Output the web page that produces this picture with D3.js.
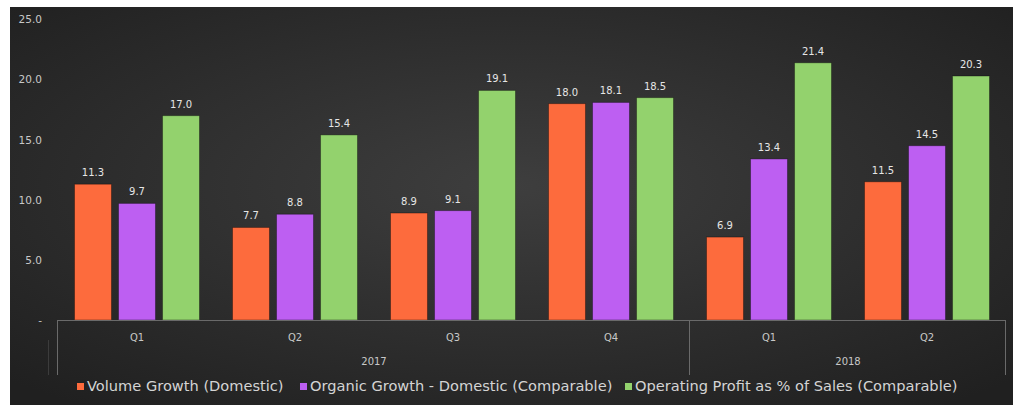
<!DOCTYPE html>
<html>
<head>
<meta charset="utf-8">
<script src="https://cdn.jsdelivr.net/npm/d3@7"></script>
<style>
  body { margin: 0; background: #fff; }
  svg { display: block; font-family: 'DejaVu Sans', 'Open Sans', sans-serif; }
</style>
</head>
<body>
<svg width="1013" height="405"></svg>
<script>
const quarters = ['Q1', 'Q2', 'Q3', 'Q4', 'Q1', 'Q2'];
const years = ['2017', '2017', '2017', '2017', '2018', '2018'];
const seriesNames = ['Volume Growth (Domestic)', 'Organic Growth - Domestic (Comparable)', 'Operating Profit as % of Sales (Comparable)'];
const volume = [11.3, 7.7, 8.9, 18.0, 6.9, 11.5];
const organic = [9.7, 8.8, 9.1, 18.1, 13.4, 14.5];
const profit = [17.0, 15.4, 19.1, 18.5, 21.4, 20.3];
const yTicks = [0, 5, 10, 15, 20, 25];

const colors = ['#fd6b3d', '#bd5ff2', '#93d26d'];
const svg = d3.select('svg');

// background
const defs = svg.append('defs');
const grad = defs.append('radialGradient')
  .attr('id', 'bg')
  .attr('cx', '50%').attr('cy', '45%').attr('r', '70%');
grad.append('stop').attr('offset', '0%').attr('stop-color', '#3e3e3e');
grad.append('stop').attr('offset', '100%').attr('stop-color', '#202020');

svg.append('rect')
  .attr('x', 10).attr('y', 7)
  .attr('width', 1003).attr('height', 398)
  .attr('fill', 'url(#bg)');

let xScale = d3.scaleBand()
  .domain(d3.range(quarters.length))
  .range([58, 1006]);

let inner = d3.scaleBand()
  .domain([0, 1, 2])
  .range([0, xScale.bandwidth()])
  .paddingInner(0.16)
  .paddingOuter(0.375);

let yScale = d3.scaleLinear()
  .domain([0, 25])
  .range([320, 19.5]);

// y axis labels
let yAxis = d3.axisLeft(yScale)
  .tickValues(yTicks)
  .tickSize(0)
  .tickPadding(0)
  .tickFormat(function(d) { return d === 0 ? '-' : d3.format('.1f')(d); });

svg.append('g')
  .attr('transform', 'translate(42,0)')
  .call(yAxis)
  .call(g => g.select('.domain').remove())
  .selectAll('text')
  .attr('fill', '#c8c8c8')
  .attr('font-family', "'DejaVu Sans', sans-serif")
  .attr('font-size', 10.5);

// bars
const data = [];
quarters.forEach(function(q, i) {
  [volume[i], organic[i], profit[i]].forEach(function(v, s) {
    data.push({ i: i, s: s, v: v });
  });
});

svg.selectAll('rect.bar')
  .data(data)
  .enter()
  .append('rect')
  .attr('class', 'bar')
  .attr('x', function(d) { return xScale(d.i) + inner(d.s); })
  .attr('y', function(d) { return yScale(d.v); })
  .attr('width', inner.bandwidth())
  .attr('height', function(d) { return yScale(0) - yScale(d.v); })
  .attr('fill', function(d) { return colors[d.s]; })
  .attr('stroke', 'rgba(0,0,0,0.35)')
  .attr('stroke-width', 1);

svg.selectAll('text.val')
  .data(data)
  .enter()
  .append('text')
  .attr('class', 'val')
  .attr('x', function(d) { return xScale(d.i) + inner(d.s) + inner.bandwidth() / 2; })
  .attr('y', function(d) { return yScale(d.v) - 8; })
  .attr('text-anchor', 'middle')
  .attr('fill', '#e6e6e6')
  .attr('font-size', 10)
  .text(function(d) { return d3.format('.1f')(d.v); });

// x axis
const axisColor = '#6a6a6a';
svg.append('line')
  .attr('x1', 57).attr('x2', 1006)
  .attr('y1', 320.5).attr('y2', 320.5)
  .attr('stroke', axisColor);

const yearStarts = [0, 4, 6];
yearStarts.forEach(function(k) {
  const x = k < quarters.length ? xScale(k) : xScale.range()[1];
  svg.append('line')
    .attr('x1', Math.round(x) - 0.5).attr('x2', Math.round(x) - 0.5)
    .attr('y1', 320).attr('y2', 375)
    .attr('stroke', axisColor);
});
svg.append('line')
  .attr('x1', 48.5).attr('x2', 48.5)
  .attr('y1', 340).attr('y2', 375)
  .attr('stroke', '#3c3c3c');

svg.selectAll('text.q')
  .data(quarters)
  .enter()
  .append('text')
  .attr('class', 'q')
  .attr('x', function(d, i) { return xScale(i) + xScale.bandwidth() / 2; })
  .attr('y', 341)
  .attr('text-anchor', 'middle')
  .attr('fill', '#c8c8c8')
  .attr('font-size', 10)
  .text(function(d) { return d; });

const yearGroups = d3.groups(d3.range(quarters.length), function(i) { return years[i]; });
svg.selectAll('text.yr')
  .data(yearGroups)
  .enter()
  .append('text')
  .attr('class', 'yr')
  .attr('x', function(d) {
    const first = d[1][0], last = d[1][d[1].length - 1];
    return (xScale(first) + xScale(last) + xScale.bandwidth()) / 2;
  })
  .attr('y', 365)
  .attr('text-anchor', 'middle')
  .attr('fill', '#c8c8c8')
  .attr('font-size', 10)
  .text(function(d) { return d[0]; });

// legend
const legendX = [77, 300, 625];
const legend = svg.selectAll('g.leg')
  .data(seriesNames)
  .enter()
  .append('g')
  .attr('class', 'leg')
  .attr('transform', function(d, i) { return 'translate(' + legendX[i] + ',386)'; });

legend.append('rect')
  .attr('x', 0).attr('y', -3)
  .attr('width', 7).attr('height', 7)
  .attr('fill', function(d, i) { return colors[i]; });

legend.append('text')
  .attr('x', 10).attr('y', 5)
  .attr('fill', '#d4d4d4')
  .attr('font-size', 14.6)
  .text(function(d) { return d; });
</script>
</body>
</html>
